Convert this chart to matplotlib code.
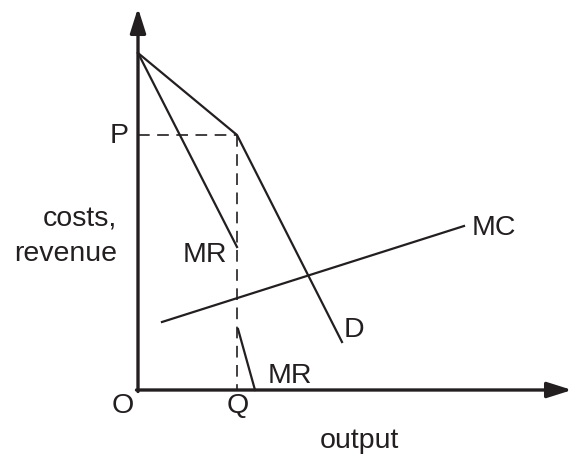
import numpy as np
from matplotlib import pyplot as plt
from matplotlib.patches import ArrowStyle

# kinked demand curve, values in plot units (origin at O)
demand_x = [0, 99, 204]
demand_y = [337, 255, 48]
mr_upper_x = [0, 99]
mr_upper_y = [337, 143]
mr_lower_x = [100, 117]
mr_lower_y = [61, 0]
mc_x = [24, 326]
mc_y = [68, 164]
P = 255
Q = 99

ink = '#231f20'
plt.rcParams['font.family'] = ['Liberation Sans', 'DejaVu Sans']

fig = plt.figure(figsize=(5.72, 4.60), dpi=100)
ax = fig.add_axes([0, 0, 1, 1])
ax.set_xlim(-138, 434)
ax.set_ylim(-69, 391)
ax.axis('off')

# axes with arrows
head = ArrowStyle('-|>', head_length=0.6, head_width=0.19)
ax.annotate('', xy=(0, 382), xytext=(0, -1.5),
            arrowprops=dict(arrowstyle=head, lw=2.4, color=ink, mutation_scale=25, shrinkA=0, shrinkB=0))
ax.annotate('', xy=(434, 0), xytext=(-1.5, 0),
            arrowprops=dict(arrowstyle=head, lw=2.4, color=ink, mutation_scale=25, shrinkA=0, shrinkB=0))

# curves
ax.plot(demand_x, demand_y, color=ink, lw=1.6)
ax.plot(mr_upper_x, mr_upper_y, color=ink, lw=1.6)
ax.plot(mr_lower_x, mr_lower_y, color=ink, lw=1.6)
ax.plot(mc_x, mc_y, color=ink, lw=1.6)

# dashed guides at the kink
ax.plot([0, Q], [P, P], color=ink, lw=1.2, dashes=(7, 4.5))
ax.plot([Q, Q], [P, 0], color=ink, lw=1.2, dashes=(7, 4.5))

fs = 20.5
ax.text(-19, P, 'P', fontsize=fs, color=ink, ha='center', va='center')
ax.text(-15, -22, 'O', fontsize=fs, color=ink, ha='center', va='baseline')
ax.text(Q + 1, -22, 'Q', fontsize=fs, color=ink, ha='center', va='baseline')
ax.text(-21, 165, 'costs,', fontsize=fs, color=ink, ha='right', va='baseline')
ax.text(-21, 130, 'revenue', fontsize=fs, color=ink, ha='right', va='baseline')
ax.text(89, 129, 'MR', fontsize=fs, color=ink, ha='right', va='baseline')
ax.text(130, 8, 'MR', fontsize=fs, color=ink, ha='left', va='baseline')
ax.text(206, 54, 'D', fontsize=fs, color=ink, ha='left', va='baseline')
ax.text(334, 156, 'MC', fontsize=fs, color=ink, ha='left', va='baseline')
ax.text(221, -57, 'output', fontsize=fs, color=ink, ha='center', va='baseline')

fig.savefig('out.png', dpi=100)
